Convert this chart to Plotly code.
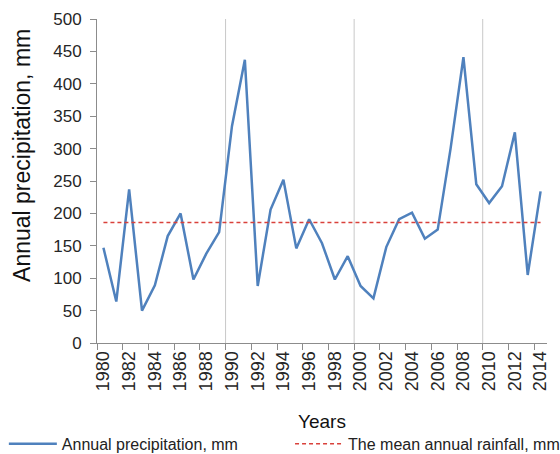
import plotly.graph_objects as go

years = list(range(1980, 2015))
precip = [147, 64, 237, 50, 89, 165, 200, 98, 138, 171,
          335, 437, 88, 206, 252, 146, 191, 154, 98, 134,
          88, 69, 148, 191, 201, 161, 175, 300, 441, 245,
          216, 242, 325, 105, 234]
mean_rain = 186
label_years = years[::2]
boundary_ticks = [y - 0.5 for y in years[::2]]
grid_years = [1990, 2000, 2010]

series_name = "Annual precipitation, mm"
mean_name = "The mean annual rainfall, mm"
y_title = "Annual precipitation, mm"

FONT = "Liberation Sans, Arial, sans-serif"

fig = go.Figure()
fig.add_trace(go.Scatter(
    x=years, y=precip, mode="lines", name=series_name,
    line=dict(color="#4F81BD", width=2.5), legend="legend",
))
fig.add_trace(go.Scatter(
    x=[years[0], years[-1]], y=[mean_rain, mean_rain], mode="lines", name=mean_name,
    line=dict(color="#D9413B", width=1.5, dash="4px,3px"), legend="legend2",
))

for g in grid_years:
    fig.add_vline(x=g - 0.5, line=dict(color="#C8C8C8", width=1), layer="below")

legend_common = dict(
    orientation="h", xref="paper", yref="paper",
    xanchor="left", y=-0.311, yanchor="middle",
    font=dict(size=16, color="#222222"),
    itemwidth=48, bgcolor="rgba(0,0,0,0)",
)

fig.add_annotation(
    text=y_title, xref="paper", yref="paper", x=-0.167, y=0.58,
    xanchor="center", yanchor="middle", textangle=-90, showarrow=False,
    font=dict(size=23, color="#111111"),
)

fig.update_layout(
    width=560, height=454,
    margin=dict(l=97, r=13, t=19, b=111, autoexpand=False),
    paper_bgcolor="white", plot_bgcolor="white",
    font=dict(family=FONT, color="#222222"),
    showlegend=True,
    legend=dict(x=-0.207, **legend_common),
    legend2=dict(x=0.429, **legend_common),
    xaxis=dict(
        range=[years[0] - 0.5, years[-1] + 0.5],
        tickmode="array", tickvals=label_years, ticktext=[str(v) for v in label_years],
        ticks="", tickangle=-90,
        tickfont=dict(size=18, color="#262626"),
        showgrid=False, zeroline=False,
        showline=True, linecolor="#8C8C8C", linewidth=1,
        minor=dict(tickmode="array", tickvals=boundary_ticks, ticks="outside",
                   ticklen=6, tickcolor="#8C8C8C", showgrid=False),
        title=dict(text="Years", font=dict(size=19, color="#111111"), standoff=24),
    ),
    yaxis=dict(
        range=[0, 500], tickmode="array", tickvals=list(range(0, 501, 50)),
        ticks="outside", ticklen=6, tickcolor="#8C8C8C", ticklabelstandoff=5,
        tickfont=dict(size=17, color="#262626"),
        showgrid=False, zeroline=False,
        showline=True, linecolor="#8C8C8C", linewidth=1,
    ),
)

fig.write_html("out.html")
